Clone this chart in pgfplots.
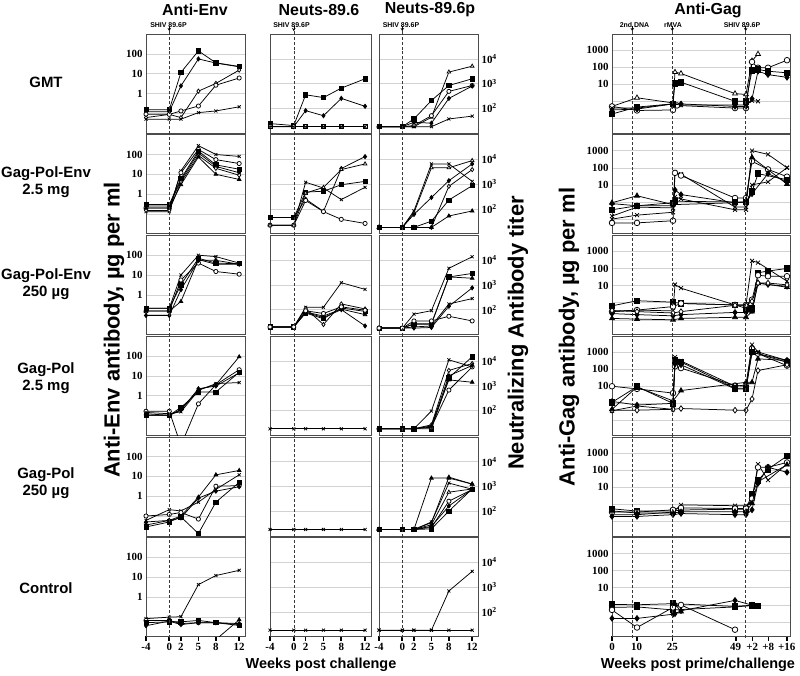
\documentclass[border=0pt]{standalone}
\usepackage{pgfplots}
\pgfplotsset{compat=1.18}
\usepackage{fontspec}
\setmainfont{Liberation Sans}
\newfontfamily\tnr{Liberation Serif}
\usetikzlibrary{arrows.meta}

\tikzset{chal/.style={densely dashed, gray!45!black, line width=0.5bp}}
\newcommand{\chal}[1]{\draw[chal] (rel axis cs:#1,-0.012) -- (rel axis cs:#1,1.012);}
\newcommand{\chaltop}[1]{\draw[chal] (rel axis cs:#1,1) -- (rel axis cs:#1,1.05);
  \draw[-{Stealth[length=3bp,width=3.5bp]}, black, line width=0.5bp] (rel axis cs:#1,1.085) -- (rel axis cs:#1,1.03);}

\pgfplotsset{
 mybase/.style={scale only axis, clip mode=individual,
   axis line style={gray!60!black, line width=0.6bp},
   ymajorgrids, yminorticks=false, grid style={gray!35, line width=0.4bp},
   xtick=\empty, ytick style={draw=none},
   tick label style={font=\tnr\bfseries\fontsize{11}{11}\selectfont},
   every axis plot/.append style={black, line width=0.75bp, mark size=2.1bp},
   height=99bp, anchor=north west},
 envax/.style={mybase, width=99bp, xmin=-4, xmax=13, ymin=0.01, ymax=1000,
   ytick={0.1,1,10,100}, yticklabels={,1,10,100}},
 neutax/.style={mybase, xmin=-4, xmax=13, ymin=10, ymax=100000,
   ytick={100,1000,10000}},
 neutAax/.style={neutax, width=101bp, yticklabels={,,}},
 neutBax/.style={neutax, width=99bp, yticklabel pos=right,
   yticklabels={10\textsuperscript{2},10\textsuperscript{3},10\textsuperscript{4}}},
 gagax/.style={mybase, width=178bp, xmin=0, xmax=178, ymin=0.014, ymax=8500,
   ytick={0.1,1,10,100,1000},
   yticklabels={,,10,100,1000},
   every axis plot/.append style={mark size=2.8bp}},
 botrow/.style={xtick pos=bottom, xtick style={draw=black, line width=1.6bp, yshift=-4bp},
   xticklabel style={yshift=-3bp}},
 botEnv/.style={botrow, xtick={-4,0,2,5,8,12}, xticklabels={-4,0,2,5,8,12}},
 botGag/.style={botrow, xtick={0,24.7,60.3,123.7,140.3,156.3,174.7}, xticklabels={0,10,25,49,+2,+8,+16}},
 msq/.style={mark=square*, mark options={solid, fill=black}},
 mdi/.style={mark=diamond*, mark options={solid, fill=black}},
 mtr/.style={mark=triangle*, mark options={solid, fill=black}},
 moc/.style={mark=*, mark options={solid, fill=white}},
 mot/.style={mark=triangle*, mark options={solid, fill=white}},
 mod/.style={mark=diamond*, mark options={solid, fill=white}},
 mos/.style={mark=square*, mark options={solid, fill=white}},
 mcr/.style={mark=x, mark options={solid}},
}

\begin{document}
\begin{tikzpicture}
\useasboundingbox (0,0) rectangle (800bp,-676bp);

%================ ANTI-ENV =================
\begin{semilogyaxis}[envax, at={(146bp,-34bp)}]
\addplot[msq] coordinates {(-4,0.15)(0,0.15)(2,11.5)(5,140)(8,35)(12,23)};
\addplot[mdi] coordinates {(-4,0.12)(0,0.12)(2,2.4)(5,55)(8,34)(12,22)};
\addplot[mod] coordinates {(-4,0.06)(0,0.087)(2,0.06)(5,1.3)(8,3.2)(12,15)};
\addplot[moc] coordinates {(-4,0.09)(0,0.087)(2,0.13)(5,0.23)(8,2.6)(12,6)};
\addplot[mcr] coordinates {(-4,0.05)(0,0.05)(2,0.05)(5,0.107)(8,0.13)(12,0.21)};
\chal{0.23529}\chaltop{0.23529}
\end{semilogyaxis}
\begin{semilogyaxis}[envax, at={(146bp,-134.7bp)}]
\addplot[mcr] coordinates {(-4,0.13)(0,0.13)(2,15)(5,280)(8,100)(12,80)};
\addplot[moc] coordinates {(-4,0.2)(0,0.2)(2,12)(5,180)(8,55)(12,35)};
\addplot[msq] coordinates {(-4,0.3)(0,0.3)(2,6)(5,150)(8,30)(12,18)};
\addplot[mdi] coordinates {(-4,0.25)(0,0.25)(2,5)(5,120)(8,25)(12,12)};
\addplot[mod] coordinates {(-4,0.15)(0,0.15)(2,4)(5,90)(8,20)(12,9)};
\addplot[mtr] coordinates {(-4,0.2)(0,0.2)(2,3)(5,75)(8,10)(12,5.5)};
\chal{0.23529}
\end{semilogyaxis}
\begin{semilogyaxis}[envax, at={(146bp,-235.4bp)}]
\addplot[mcr] coordinates {(-4,0.21)(0,0.21)(2,10)(5,100)(8,85)(12,40)};
\addplot[moc] coordinates {(-4,0.15)(0,0.15)(2,5.6)(5,40)(8,15)(12,11)};
\addplot[msq] coordinates {(-4,0.21)(0,0.21)(2,3.2)(5,70)(8,40)(12,37)};
\addplot[mdi] coordinates {(-4,0.09)(0,0.09)(2,1.8)(5,55)(8,55)(12,35)};
\addplot[mtr] coordinates {(-4,0.15)(0,0.15)(2,0.46)(5,60)(8,35)(12,35)};
\chal{0.23529}
\end{semilogyaxis}
\begin{semilogyaxis}[envax, at={(146bp,-336.1bp)}]
\addplot[mtr] coordinates {(-4,0.12)(0,0.1)(2,0.2)(5,2.0)(8,3.5)(12,90)};
\addplot[moc] coordinates {(-4,0.16)(0,0.16)(2,0.003)(5,0.38)(8,3.5)(12,20)};
\addplot[msq] coordinates {(-4,0.1)(0,0.1)(2,0.25)(5,1.5)(8,1.5)(12,15)};
\addplot[mdi] coordinates {(-4,0.1)(0,0.1)(2,0.18)(5,2.2)(8,3.0)(12,14)};
\addplot[mcr] coordinates {(-4,0.14)(0,0.12)(2,0.15)(5,1.8)(8,4.0)(12,4.5)};
\chal{0.23529}
\end{semilogyaxis}
\begin{semilogyaxis}[envax, at={(146bp,-436.8bp)}]
\addplot[mtr] coordinates {(-4,0.05)(0,0.06)(2,0.1)(5,0.9)(8,12)(12,20)};
\addplot[mcr] coordinates {(-4,0.06)(0,0.21)(2,0.18)(5,0.5)(8,2.2)(12,12)};
\addplot[moc] coordinates {(-4,0.1)(0,0.12)(2,0.15)(5,0.07)(8,3.2)(12,3.4)};
\addplot[msq] coordinates {(-4,0.028)(0,0.05)(2,0.09)(5,0.013)(8,0.5)(12,5)};
\addplot[mdi] coordinates {(-4,0.035)(0,0.06)(2,0.08)(5,0.8)(8,1.8)(12,3)};
\chal{0.23529}
\end{semilogyaxis}
\begin{semilogyaxis}[envax, botEnv, at={(146bp,-537.5bp)}]
\addplot[mcr] coordinates {(-4,0.08)(0,0.095)(2,0.1)(5,4.2)(8,12)(12,22)};
\addplot[moc] coordinates {(-4,0.065)(0,0.065)(2,0.045)(5,0.05)(8,0.05)(12,0.04)};
\addplot[msq] coordinates {(-4,0.05)(0,0.055)(2,0.055)(5,0.065)(8,0.05)(12,0.036)};
\addplot[mdi] coordinates {(-4,0.035)(0,0.06)(2,0.04)(5,0.05)(8,0.05)(12,0.045)};
\addplot[mtr] coordinates {(8,0.007)(12,0.07)};
\chal{0.23529}
\end{semilogyaxis}

%================ NEUTS-89.6 =================
\begin{semilogyaxis}[neutAax, at={(270bp,-34bp)}]
\addplot[msq] coordinates {(-4,24)(0,20)(2,350)(5,270)(8,650)(12,1550)};
\addplot[mdi] coordinates {(-4,18)(0,18)(2,80)(5,50)(8,250)(12,120)};
\addplot[mos] coordinates {(-4,18)(0,18)(2,18)(5,18)(8,18)(12,18)};
\addplot[mcr] coordinates {(-4,18)(0,18)(2,18)(5,18)(8,18)(12,18)};
\chal{0.23529}\chaltop{0.23529}
\end{semilogyaxis}
\begin{semilogyaxis}[neutAax, at={(270bp,-134.7bp)}]
\addplot[mdi] coordinates {(-4,45)(0,45)(2,250)(5,80)(8,4300)(12,13000)};
\addplot[mcr] coordinates {(-4,22)(0,22)(2,1200)(5,700)(8,240)(12,750)};
\addplot[msq] coordinates {(-4,45)(0,45)(2,480)(5,520)(8,950)(12,1300)};
\addplot[moc] coordinates {(-4,22)(0,22)(2,220)(5,78)(8,38)(12,26)};
\addplot[mot] coordinates {(-4,22)(0,22)(2,440)(5,740)(8,3900)(12,6600)};
\chal{0.23529}
\end{semilogyaxis}
\begin{semilogyaxis}[neutAax, at={(270bp,-235.4bp)}]
\addplot[mcr] coordinates {(-4,20)(0,20)(2,125)(5,125)(8,1230)(12,660)};
\addplot[mod] coordinates {(-4,20)(0,20)(2,110)(5,25)(8,170)(12,107)};
\addplot[msq] coordinates {(-4,20)(0,20)(2,73)(5,43)(8,117)(12,85)};
\addplot[mtr] coordinates {(-4,20)(0,20)(2,80)(5,55)(8,105)(12,63)};
\addplot[mdi] coordinates {(-4,20)(0,20)(2,78)(5,48)(8,100)(12,22)};
\addplot[moc] coordinates {(-4,20)(0,20)(2,90)(5,70)(8,130)(12,95)};
\chal{0.23529}
\end{semilogyaxis}
\begin{semilogyaxis}[neutAax, at={(270bp,-336.1bp)}]
\addplot[mcr] coordinates {(-4,18)(0,18)(2,18)(5,18)(8,18)(12,18)};
\chal{0.23529}
\end{semilogyaxis}
\begin{semilogyaxis}[neutAax, at={(270bp,-436.8bp)}]
\addplot[mcr] coordinates {(-4,18)(0,18)(2,18)(5,18)(8,18)(12,18)};
\chal{0.23529}
\end{semilogyaxis}
\begin{semilogyaxis}[neutAax, botEnv, at={(270bp,-537.5bp)}]
\addplot[mcr] coordinates {(-4,18)(0,18)(2,18)(5,18)(8,18)(12,18)};
\chal{0.23529}
\end{semilogyaxis}

%================ NEUTS-89.6p =================
\begin{semilogyaxis}[neutBax, at={(379bp,-34bp)}]
\addplot[mot] coordinates {(-4,18)(0,18)(2,18)(5,43)(8,2900)(12,5000)};
\addplot[msq] coordinates {(-4,18)(0,18)(2,37)(5,205)(8,830)(12,1550)};
\addplot[moc] coordinates {(-4,18)(0,18)(2,20)(5,50)(8,480)(12,830)};
\addplot[mdi] coordinates {(-4,18)(0,18)(2,27)(5,25)(8,250)(12,790)};
\addplot[mcr] coordinates {(-4,18)(0,18)(2,18)(5,18)(8,37)(12,48)};
\chal{0.23529}\chaltop{0.23529}
\end{semilogyaxis}
\begin{semilogyaxis}[neutBax, at={(379bp,-134.7bp)}]
\addplot[mcr] coordinates {(-4,18)(0,18)(2,83)(5,6600)(8,6600)(12,1300)};
\addplot[mot] coordinates {(-4,18)(0,18)(2,70)(5,4600)(8,4600)(12,9000)};
\addplot[mdi] coordinates {(-4,18)(0,18)(2,60)(5,290)(8,1390)(12,6600)};
\addplot[mod] coordinates {(-4,18)(0,18)(2,18)(5,18)(8,820)(12,3900)};
\addplot[msq] coordinates {(-4,18)(0,18)(2,18)(5,32)(8,230)(12,870)};
\addplot[mtr] coordinates {(-4,18)(0,18)(2,18)(5,18)(8,52)(12,83)};
\chal{0.23529}
\end{semilogyaxis}
\begin{semilogyaxis}[neutBax, at={(379bp,-235.4bp)}]
\addplot[mcr] coordinates {(-4,18)(0,18)(2,66)(5,91)(8,4700)(12,13700)};
\addplot[msq] coordinates {(-4,18)(0,18)(2,26)(5,26)(8,2100)(12,2900)};
\addplot[mtr] coordinates {(-4,18)(0,18)(2,27)(5,27)(8,2100)(12,1860)};
\addplot[mdi] coordinates {(-4,18)(0,18)(2,18)(5,19)(8,137)(12,760)};
\addplot[mcr] coordinates {(-4,18)(0,18)(2,20)(5,22)(8,170)(12,280)};
\addplot[moc] coordinates {(-4,18)(0,18)(2,35)(5,35)(8,54)(12,35)};
\chal{0.23529}
\end{semilogyaxis}
\begin{semilogyaxis}[neutBax, at={(379bp,-336.1bp)}]
\addplot[mcr] coordinates {(-4,18)(0,18)(2,18)(5,94)(8,11000)(12,5700)};
\addplot[msq] coordinates {(-4,18)(0,18)(2,18)(5,18)(8,2070)(12,14600)};
\addplot[moc] coordinates {(-4,18)(0,18)(2,18)(5,21)(8,660)(12,5700)};
\addplot[mtr] coordinates {(-4,18)(0,18)(2,18)(5,23)(8,1700)(12,1370)};
\addplot[mod] coordinates {(-4,18)(0,18)(2,18)(5,26)(8,4100)(12,7800)};
\addplot[mdi] coordinates {(-4,18)(0,18)(2,18)(5,23)(8,2500)(12,6500)};
\chal{0.23529}
\end{semilogyaxis}
\begin{semilogyaxis}[neutBax, at={(379bp,-436.8bp)}]
\addplot[mtr] coordinates {(-4,18)(0,18)(2,18)(5,2150)(8,2150)(12,1230)};
\addplot[mtr] coordinates {(-4,18)(0,18)(2,18)(5,34)(8,2350)(12,1230)};
\addplot[mot] coordinates {(-4,18)(0,18)(2,18)(5,28)(8,580)(12,780)};
\addplot[mcr] coordinates {(-4,18)(0,18)(2,18)(5,36)(8,1350)(12,760)};
\addplot[moc] coordinates {(-4,18)(0,18)(2,18)(5,22)(8,250)(12,740)};
\addplot[msq] coordinates {(-4,18)(0,18)(2,18)(5,19)(8,100)(12,780)};
\addplot[mdi] coordinates {(-4,18)(0,18)(2,18)(5,24)(8,160)(12,760)};
\chal{0.23529}
\end{semilogyaxis}
\begin{semilogyaxis}[neutBax, botEnv, at={(379bp,-537.5bp)}]
\addplot[mcr] coordinates {(-4,18)(0,18)(2,18)(5,18)(8,18)(12,18)};
\addplot[mcr] coordinates {(-4,18)(0,18)(2,18)(5,18)(8,690)(12,4300)};
\chal{0.23529}
\end{semilogyaxis}

%================ ANTI-GAG =================
\begin{semilogyaxis}[gagax, at={(612bp,-34bp)}]
\addplot[mot] coordinates {(0,0.5)(25,1.6)(61,0.8)(63,50)(69,42)(123,2.8)(134,2.5)(140,230)(146,575)};
\addplot[moc] coordinates {(0,0.5)(25,0.29)(61,0.31)(65,0.57)(123,0.4)(134,0.4)(140,200)(146,91)(156,91)(175,250)};
\addplot[msq] coordinates {(0,0.18)(25,0.46)(61,0.7)(63,11.5)(69,13)(123,1)(134,1)(140,63)(146,72)(156,57)(175,46)};
\addplot[mcr] coordinates {(0,0.4)(25,0.4)(61,0.7)(69,0.6)(123,0.6)(134,0.6)(140,1.1)(146,1.0)};
\addplot[mdi] coordinates {(0,0.31)(25,0.35)(61,0.7)(69,0.7)(123,0.5)(134,0.5)(140,1.4)(146,57)(156,36)(175,25)};
\chal{0.1140}\chal{0.3388}\chal{0.7511}
\chaltop{0.1140}\chaltop{0.3388}\chaltop{0.7511}
\end{semilogyaxis}
\begin{semilogyaxis}[gagax, at={(612bp,-134.7bp)}]
\addplot[mcr] coordinates {(0,0.15)(25,0.5)(61,0.45)(63,55)(69,42)(123,0.5)(134,0.5)(140,1000)(156,600)(175,100)};
\addplot[moc] coordinates {(0,0.06)(25,0.06)(61,0.08)(63,50)(69,35)(123,1.7)(134,1.7)(140,240)(156,80)(175,30)};
\addplot[msq] coordinates {(0,0.35)(25,0.6)(61,0.9)(63,1.1)(123,1.0)(134,1.0)(140,4)(146,45)(175,20)};
\addplot[mdi] coordinates {(0,0.8)(25,0.6)(61,0.6)(63,5)(69,2.7)(123,0.9)(134,1.0)(140,3)(156,45)(175,15)};
\addplot[mtr] coordinates {(0,0.9)(25,2.3)(61,0.7)(123,0.9)(134,1.0)(140,400)(175,11)};
\addplot[mcr] coordinates {(0,0.1)(25,0.17)(61,0.25)(63,2)(69,1.5)(123,0.35)(134,0.35)(140,10)(156,15)(175,100)};
\chal{0.1140}\chal{0.3388}\chal{0.7511}
\end{semilogyaxis}
\begin{semilogyaxis}[gagax, at={(612bp,-235.4bp)}]
\addplot[mcr] coordinates {(0,0.3)(25,0.37)(61,0.33)(63,11.5)(69,7)(123,0.74)(134,0.74)(140,280)(146,220)(175,18)};
\addplot[msq] coordinates {(0,0.65)(25,1.3)(61,1.07)(69,0.9)(123,0.74)(134,0.47)(140,0.45)(146,56)(156,70)(175,100)};
\addplot[moc] coordinates {(0,0.3)(25,0.37)(61,0.59)(69,0.9)(123,0.74)(134,0.74)(140,1.5)(146,40)(156,35)(175,35)};
\addplot[mdi] coordinates {(0,0.23)(25,0.2)(61,0.17)(69,0.2)(123,0.27)(134,0.27)(140,0.35)(146,14)(156,11.5)(175,9)};
\addplot[mtr] coordinates {(0,0.12)(25,0.11)(61,0.1)(69,0.12)(123,0.14)(134,0.14)(140,0.3)(146,14)(175,8)};
\addplot[mod] coordinates {(0,0.35)(25,0.3)(61,0.25)(69,0.3)(123,0.7)(134,0.7)(140,1.2)(146,14)(156,14)(175,11)};
\chal{0.1140}\chal{0.3388}\chal{0.7511}
\end{semilogyaxis}
\begin{semilogyaxis}[gagax, at={(612bp,-336.1bp)}]
\addplot[moc] coordinates {(0,10)(25,7)(61,4)(63,145)(69,115)(123,11)(134,10)(140,1600)(146,800)(175,160)};
\addplot[msq] coordinates {(0,1.15)(25,9.5)(61,1.0)(63,320)(69,260)(123,7.6)(134,7.6)(140,1000)(175,250)};
\addplot[mcr] coordinates {(0,0.37)(25,0.7)(61,0.45)(63,500)(69,300)(123,10)(134,12)(140,2700)(146,1000)(175,320)};
\addplot[mod] coordinates {(0,0.4)(25,0.4)(61,0.45)(69,0.5)(123,0.4)(134,0.4)(140,1.8)(146,83)(175,180)};
\addplot[mdi] coordinates {(0,1.3)(25,0.8)(61,1.0)(63,200)(69,180)(123,7)(134,7)(140,950)(175,320)};
\addplot[mtr] coordinates {(0,0.45)(25,9)(61,1.4)(69,5.6)(134,17)(140,17)(146,400)(175,320)};
\chal{0.1140}\chal{0.3388}\chal{0.7511}
\end{semilogyaxis}
\begin{semilogyaxis}[gagax, at={(612bp,-436.8bp)}]
\addplot[msq] coordinates {(0,0.53)(25,0.39)(61,0.39)(69,0.45)(123,0.5)(134,0.5)(140,3.7)(146,24)(156,110)(175,640)};
\addplot[mcr] coordinates {(0,0.24)(25,0.24)(61,0.34)(69,0.9)(123,0.8)(134,0.8)(140,1.4)(146,215)(156,25)(175,215)};
\addplot[moc] coordinates {(0,0.34)(25,0.34)(61,0.46)(69,0.6)(123,0.55)(134,0.55)(140,2.1)(146,140)(156,140)(175,270)};
\addplot[mdi] coordinates {(0,0.19)(25,0.19)(61,0.24)(69,0.28)(123,0.24)(134,0.24)(140,0.46)(146,16)(156,140)(175,72)};
\addplot[mtr] coordinates {(0,0.4)(25,0.3)(61,0.3)(69,0.35)(123,0.36)(134,0.36)(140,1.1)(146,20)(175,200)};
\chal{0.1140}\chal{0.3388}\chal{0.7511}
\end{semilogyaxis}
\begin{semilogyaxis}[gagax, botGag, at={(612bp,-537.5bp)}]
\addplot[msq] coordinates {(0,1.05)(25,1.0)(61,1.16)(123,0.8)(140,0.95)(146,0.85)};
\addplot[msq] coordinates {(0,0.7)(25,0.75)(61,0.5)(123,0.75)(140,0.9)};
\addplot[mdi] coordinates {(0,0.16)(25,0.16)(61,0.28)(63,0.3)(69,0.45)(123,1.8)(140,0.95)};
\addplot[moc] coordinates {(0,0.5)(25,0.047)(61,0.7)(69,0.98)(123,0.035)};
\addplot[mtr] coordinates {(61,1.15)(63,1.1)(69,0.4)};
\chal{0.1140}\chal{0.3388}\chal{0.7511}
\end{semilogyaxis}

%================ TEXT =================
\begin{scope}[every node/.style={font=\bfseries\fontsize{16}{16}\selectfont}]
\node at (195bp,-10bp) {Anti-Env};
\node at (319bp,-10bp) {Neuts-89.6};
\node at (430bp,-10bp) {Neuts-89.6p};
\node at (708bp,-10bp) {Anti-Gag};
\end{scope}
\begin{scope}[every node/.style={font=\bfseries\fontsize{7}{7}\selectfont, inner sep=0pt}]
\node at (168.5bp,-25.5bp) {SHIV 89.6P};
\node at (291.5bp,-25.5bp) {SHIV 89.6P};
\node at (401bp,-25.5bp) {SHIV 89.6P};
\node at (634.5bp,-25.5bp) {2nd DNA};
\node at (673bp,-25.5bp) {rMVA};
\node at (742bp,-25.5bp) {SHIV 89.6P};
\end{scope}
\begin{scope}[every node/.style={font=\bfseries\fontsize{15}{17}\selectfont, align=center}]
\node at (46bp,-82bp) {GMT};
\node at (46bp,-182bp) {Gag-Pol-Env\\2.5 mg};
\node at (46bp,-284bp) {Gag-Pol-Env\\250 µg};
\node at (46bp,-378bp) {Gag-Pol\\2.5 mg};
\node at (46bp,-483bp) {Gag-Pol\\250 µg};
\node at (46bp,-588bp) {Control};
\end{scope}
\begin{scope}[every node/.style={font=\bfseries\fontsize{22}{22}\selectfont, rotate=90}]
\node at (114bp,-330bp) {Anti-Env antibody, µg per ml};
\node at (518bp,-333bp) {Neutralizing Antibody titer};
\node at (569bp,-337bp) {Anti-Gag antibody, µg per ml};
\end{scope}
\begin{scope}[every node/.style={font=\bfseries\fontsize{14.5}{14.5}\selectfont}]
\node at (321bp,-665bp) {Weeks post challenge};
\node at (698bp,-665bp) {Weeks post prime/challenge};
\end{scope}
\end{tikzpicture}
\end{document}
